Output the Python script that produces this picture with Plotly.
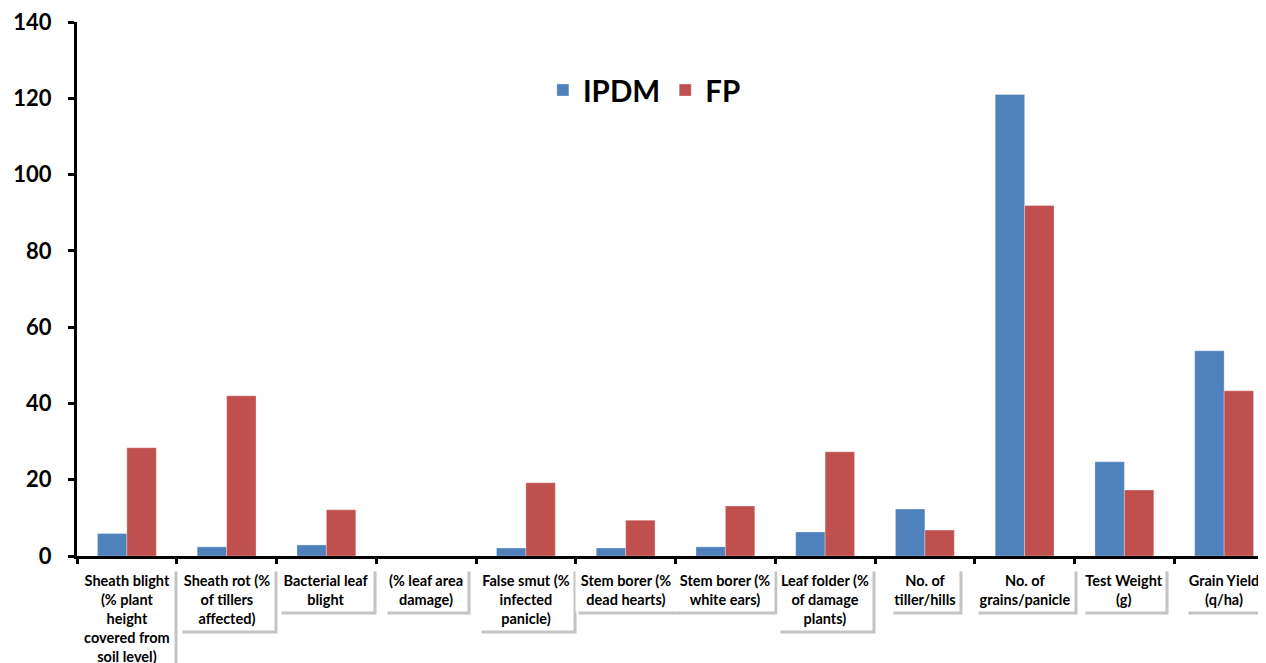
import plotly.graph_objects as go

categories = [
    "Sheath blight<br>(% plant<br>height<br>covered from<br>soil level)",
    "Sheath rot (%<br>of tillers<br>affected)",
    "Bacterial leaf<br>blight",
    "(% leaf area<br>damage)",
    "False smut (%<br>infected<br>panicle)",
    "Stem borer (%<br>dead hearts)",
    "Stem borer (%<br>white ears)",
    "Leaf folder (%<br>of damage<br>plants)",
    "No. of<br>tiller/hills",
    "No. of<br>grains/panicle",
    "Test Weight<br>(g)",
    "Grain Yield<br>(q/ha)",
]
ipdm = [5.9, 2.4, 2.9, 0, 2.1, 2.1, 2.4, 6.3, 12.3, 121.0, 24.7, 53.8]
fp = [28.4, 42.0, 12.1, 0, 19.2, 9.4, 13.1, 27.3, 6.8, 91.9, 17.3, 43.3]
y_ticks = [0, 20, 40, 60, 80, 100, 120, 140]

# label box widths (px) as seen in the reference
label_box_w = [92, 92, 92, 80, 92, 98, 96, 92, 66, 96, 80, 74]

x_idx = list(range(len(categories)))

fig = go.Figure()
fig.add_trace(go.Bar(name="IPDM", x=x_idx, y=ipdm, marker_color="#4F81BD",
                     marker_line=dict(color="rgba(255,255,255,0.6)", width=0.5)))
fig.add_trace(go.Bar(name="FP", x=x_idx, y=fp, marker_color="#C0504D",
                     marker_line=dict(color="rgba(255,255,255,0.6)", width=0.5)))

font_family = "Lato, 'Open Sans', sans-serif"

# category labels in boxes with a soft shadow
for i, lab in enumerate(categories):
    n_lines = lab.count("<br>") + 1
    h = n_lines * 19 + 2
    w = label_box_w[i]
    fig.add_annotation(x=i, y=0, xref="x", yref="paper", yanchor="top",
                       text=" ", showarrow=False, yshift=-15, xshift=3,
                       width=w, height=h,
                       font=dict(family=font_family, size=14, color="rgba(0,0,0,0)"),
                       bgcolor="#C4C4C4", borderpad=1)
    fig.add_annotation(x=i, y=0, xref="x", yref="paper", yanchor="top",
                       text="<b>" + lab.replace("<br>", "</b><br><b>") + "</b>", showarrow=False, yshift=-12,
                       width=w, height=h, valign="middle",
                       font=dict(family=font_family, size=14.5, color="black"),
                       bgcolor="white", borderpad=1, align="center")

fig.update_layout(
    width=1266, height=663,
    margin=dict(l=69, r=0, t=14, b=115),
    paper_bgcolor="white", plot_bgcolor="white",
    barmode="group", bargap=0.41, bargroupgap=0,
    font=dict(family=font_family, color="black"),
    legend=dict(orientation="h", x=0.474, y=0.872, xanchor="center", yanchor="middle",
                font=dict(family=font_family, size=29.5, color="black", weight="bold"),
                bgcolor="rgba(0,0,0,0)", itemwidth=30, tracegroupgap=0),
    showlegend=True,
)
fig.update_xaxes(range=[-0.5, len(categories) - 0.5], tickvals=[i - 0.5 for i in x_idx] + [len(categories) - 0.5],
                 ticktext=[""] * (len(categories) + 1), ticks="outside", ticklen=5, tickwidth=3,
                 tickcolor="black", showline=True, linecolor="black", linewidth=3,
                 showgrid=False, zeroline=False, fixedrange=True, automargin=False)
fig.update_yaxes(range=[0, 140], tickvals=y_ticks, ticktext=[str(v) for v in y_ticks],
                 ticks="outside", ticklen=6, tickwidth=3, tickcolor="black",
                 showline=True, linecolor="black", linewidth=3, showgrid=False, zeroline=False,
                 tickfont=dict(family=font_family, size=22, color="black", weight="bold"),
                 ticklabelstandoff=12, automargin=False, ticklabeloverflow="allow")

fig.write_html("out.html")
